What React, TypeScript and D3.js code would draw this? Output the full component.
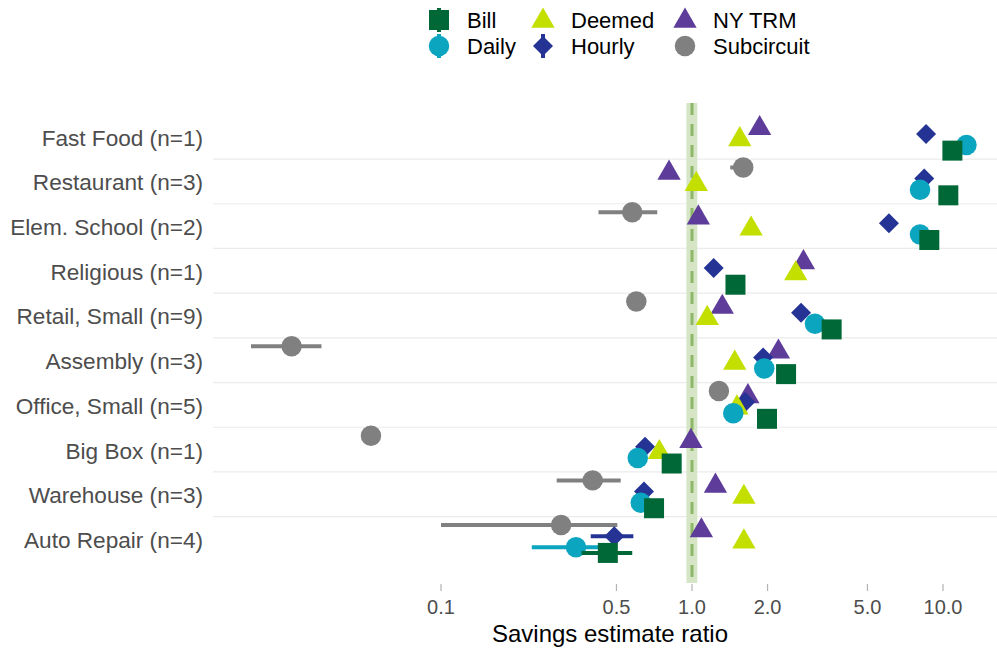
import React from "react";
import * as d3 from "d3";

const categories = [
  "Fast Food (n=1)",
  "Restaurant (n=3)",
  "Elem. School (n=2)",
  "Religious (n=1)",
  "Retail, Small (n=9)",
  "Assembly (n=3)",
  "Office, Small (n=5)",
  "Big Box (n=1)",
  "Warehouse (n=3)",
  "Auto Repair (n=4)",
];

const bill = [10.9, 10.5, 8.82, 1.49, 3.6, 2.37, 1.99, 0.83, 0.706, 0.462];
const daily = [12.4, 8.1, 8.1, null, 3.09, 1.94, 1.46, 0.608, 0.625, 0.345];
const deemed = [1.55, 1.04, 1.72, 2.59, 1.15, 1.48, 1.51, 0.741, 1.61, 1.61];
const hourly = [8.56, 8.42, 6.09, 1.22, 2.72, 1.92, 1.63, 0.65, 0.644, 0.49];
const nytrm = [1.86, 0.81, 1.06, 2.78, 1.32, 2.21, 1.67, 0.99, 1.24, 1.09];
const subcircuit = [null, 1.6, 0.578, null, 0.6, 0.0254, 1.28, 0.0526, 0.402, 0.301];

const billLo = [null, null, null, null, null, null, null, null, null, 0.363];
const billHi = [null, null, null, null, null, null, null, null, null, 0.578];
const dailyLo = [null, null, null, null, null, null, null, null, null, 0.23];
const dailyHi = [null, null, null, null, null, null, null, null, null, 0.48];
const hourlyLo = [null, null, null, null, null, null, null, null, null, 0.395];
const hourlyHi = [null, null, null, null, null, null, null, null, null, 0.584];
const subLo = [null, 1.42, 0.424, null, null, 0.0175, null, null, 0.289, 0.1];
const subHi = [null, 1.72, 0.727, null, null, 0.0334, null, null, 0.52, 0.504];

const xTicks = [0.1, 0.5, 1.0, 2.0, 5.0, 10.0];
const refBand = [0.95, 1.05];
const refLine = 1.0;

type Shape = "square" | "circle" | "triangle" | "diamond";
interface Series {
  name: string;
  values: (number | null)[];
  lo: (number | null)[];
  hi: (number | null)[];
  color: string;
  shape: Shape;
  stub: boolean;
}

const seriesList: Series[] = [
  { name: "Bill", values: bill, lo: billLo, hi: billHi, color: "#006837", shape: "square", stub: true },
  { name: "Daily", values: daily, lo: dailyLo, hi: dailyHi, color: "#0ba5c0", shape: "circle", stub: true },
  { name: "Deemed", values: deemed, lo: deemed.map(() => null), hi: deemed.map(() => null), color: "#c3df00", shape: "triangle", stub: false },
  { name: "Hourly", values: hourly, lo: hourlyLo, hi: hourlyHi, color: "#253494", shape: "diamond", stub: true },
  { name: "NY TRM", values: nytrm, lo: nytrm.map(() => null), hi: nytrm.map(() => null), color: "#5e3c99", shape: "triangle", stub: false },
  { name: "Subcircuit", values: subcircuit, lo: subLo, hi: subHi, color: "#808080", shape: "circle", stub: false },
];

// dodge order from top to bottom (also drawing order)
const slotOrder = ["Subcircuit", "NY TRM", "Hourly", "Deemed", "Daily", "Bill"];

const FONT = "'Liberation Sans', Arial, Helvetica, sans-serif";

function shapePath(shape: Shape): string {
  if (shape === "square") return d3.symbol(d3.symbolSquare, 400)() as string;
  if (shape === "circle") return d3.symbol(d3.symbolCircle, 330)() as string;
  if (shape === "triangle") return d3.symbol(d3.symbolTriangle, 235)() as string;
  const r = 10;
  return `M0,${-r}L${r},0L0,${r}L${-r},0Z`;
}

export default function App() {
  const W = 997;
  const H = 648;
  const panelLeft = 213;
  const panelRight = 997;
  const panelTop = 103;
  const panelBottom = 583;

  const x = d3.scaleLog().domain([0.1, 10]).range([441, 943]);
  const y = d3.scaleLinear().domain([0, categories.length - 1]).range([136.7, 539]);
  const slotGap = 5.57;

  const gridYs = d3.range(categories.length - 1).map((k) => y(k + 0.5));

  const marks: React.ReactNode[] = [];
  categories.forEach((_, ci) => {
    slotOrder.forEach((sname, si) => {
      const s = seriesList.find((d) => d.name === sname)!;
      const v = s.values[ci];
      if (v == null) return;
      const cy = y(ci) + (si - 2.5) * slotGap;
      const lo = s.lo[ci];
      const hi = s.hi[ci];
      if (lo != null && hi != null) {
        marks.push(
          <line key={`e-${ci}-${si}`} x1={x(lo)} x2={x(hi)} y1={cy} y2={cy} stroke={s.color} strokeWidth={4} />
        );
      }
      marks.push(
        <path key={`p-${ci}-${si}`} d={shapePath(s.shape)} transform={`translate(${x(v)},${cy})`} fill={s.color} />
      );
    });
  });

  const legendCols = [439, 543, 685];
  const legendRows = [20, 46];
  const legendLayout = [
    ["Bill", 0, 0],
    ["Deemed", 1, 0],
    ["NY TRM", 2, 0],
    ["Daily", 0, 1],
    ["Hourly", 1, 1],
    ["Subcircuit", 2, 1],
  ] as const;

  return (
    <div style={{ position: "absolute", left: 0, top: 0, width: W, height: H, background: "#fff" }}>
      <svg width={W} height={H} style={{ display: "block" }} fontFamily={FONT}>
        <rect x={0} y={0} width={W} height={H} fill="#fff" />
        {gridYs.map((gy, i) => (
          <line key={`g${i}`} x1={panelLeft} x2={panelRight} y1={gy} y2={gy} stroke="#ebebeb" strokeWidth={1.2} />
        ))}
        <rect
          x={x(refBand[0])}
          y={panelTop}
          width={x(refBand[1]) - x(refBand[0])}
          height={panelBottom - panelTop}
          fill="#d6e5c6"
        />
        <line
          x1={x(refLine)}
          x2={x(refLine)}
          y1={panelTop}
          y2={panelBottom}
          stroke="#8db868"
          strokeWidth={3}
          strokeDasharray="12,9"
        />
        {marks}
        {categories.map((c, i) => (
          <text key={`c${i}`} x={203} y={y(i) + 1} dy="0.35em" textAnchor="end" fontSize={22.6} fill="#4d4d4d">
            {c}
          </text>
        ))}
        {xTicks.map((t, i) => (
          <g key={`t${i}`}>
            <line x1={x(t)} x2={x(t)} y1={panelBottom + 1} y2={panelBottom + 8} stroke="#b3b3b3" strokeWidth={1.2} />
            <text x={x(t)} y={614} textAnchor="middle" fontSize={20} fill="#4d4d4d">
              {d3.format(".1f")(t)}
            </text>
          </g>
        ))}
        <text x={610} y={642} textAnchor="middle" fontSize={24} fill="#000">
          Savings estimate ratio
        </text>
        {legendLayout.map(([name, col, row]) => {
          const s = seriesList.find((d) => d.name === name)!;
          const cx = legendCols[col];
          const cy = legendRows[row];
          return (
            <g key={`l-${name}`}>
              {s.stub && <line x1={cx} x2={cx} y1={cy - 12} y2={cy + 12} stroke={s.color} strokeWidth={4} />}
              <path d={shapePath(s.shape)} transform={`translate(${cx},${cy + (s.shape === "triangle" ? 1 : 0)})`} fill={s.color} />
              <text x={cx + 28} y={cy} dy="0.36em" fontSize={22} fill="#000">
                {name}
              </text>
            </g>
          );
        })}
      </svg>
    </div>
  );
}
